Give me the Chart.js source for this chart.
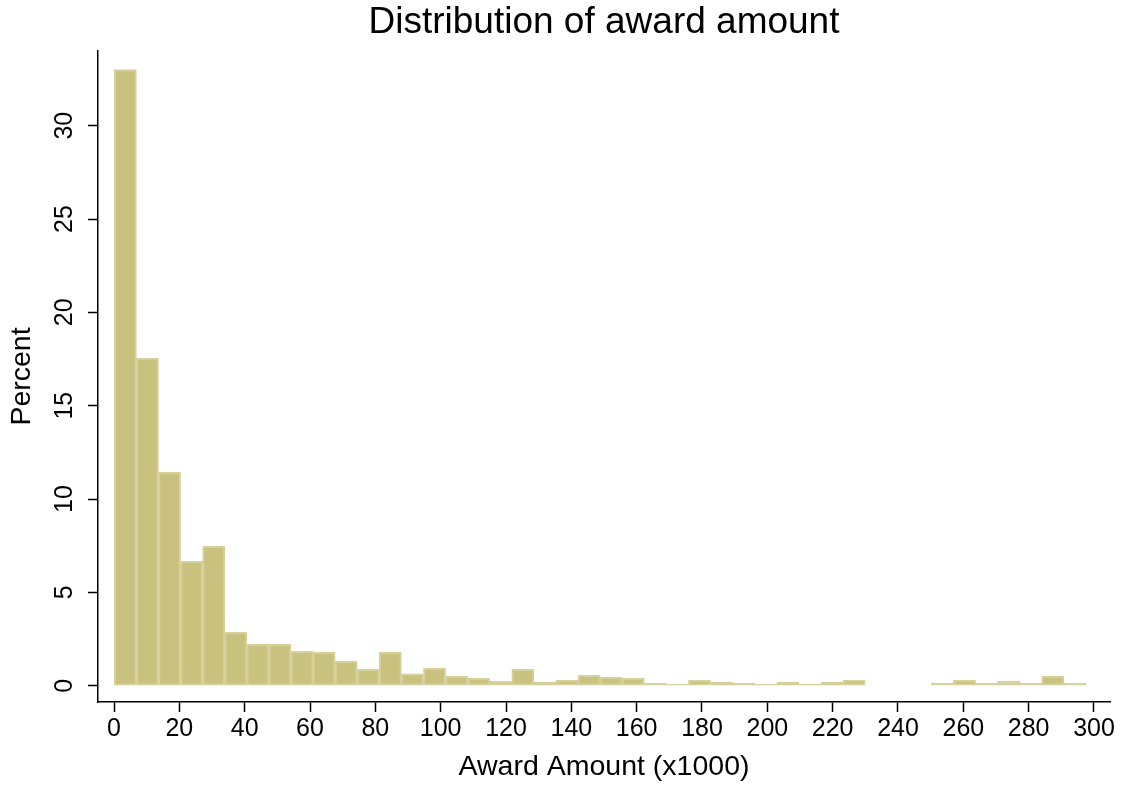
<!DOCTYPE html>
<html>
<head>
<meta charset="utf-8">
<title>Distribution of award amount</title>
<script src="https://cdn.jsdelivr.net/npm/chart.js@4.4.1/dist/chart.umd.min.js"></script>
<style>
    body { margin: 0; background: #fff; }
    #wrap { width: 1122px; height: 788px; }
</style>
</head>
<body>
<div id="wrap"><canvas id="awardChart" width="1122" height="788"></canvas></div>
<script>
// Histogram bins (x1000), 44 equal bins
const binStart = 0.1;
const binWidth = 6.76;
const percent = [
    33.0, 17.55, 11.43, 6.66, 7.47, 2.86, 2.22, 2.22, 1.84, 1.79, 1.31,
    0.88, 1.79, 0.63, 0.93, 0.50, 0.40, 0.23, 0.88, 0.20, 0.29, 0.56,
    0.45, 0.40, 0.13, 0.07, 0.29, 0.20, 0.14, 0.07, 0.20, 0.09, 0.20,
    0.30, 0, 0, 0, 0.14, 0.29, 0.14, 0.25, 0.14, 0.50, 0.14
];
const xTicks = [0, 20, 40, 60, 80, 100, 120, 140, 160, 180, 200, 220, 240, 260, 280, 300];
const yTicks = [0, 5, 10, 15, 20, 25, 30];

document.addEventListener('DOMContentLoaded', function() {
    const font = 'Liberation Sans, Arial, Helvetica, sans-serif';

    const points = percent.map((p, i) => ({ x: binStart + binWidth * (i + 0.5), y: p }));

    const ctx = document.getElementById('awardChart').getContext('2d');
    new Chart(ctx, {
        type: 'bar',
        data: {
            datasets: [{
                label: 'Percent',
                data: points,
                backgroundColor: '#C9C27E',
                borderColor: '#D6D09C',
                borderWidth: 2,
                borderSkipped: false,
                barPercentage: 1,
                categoryPercentage: 1
            }]
        },
        options: {
            responsive: false,
            animation: false,
            layout: { padding: { left: 0, top: 0, bottom: 0, right: 12 } },
            plugins: {
                legend: { display: false },
                tooltip: { enabled: false },
                title: {
                    display: true,
                    text: 'Distribution of award amount',
                    fullSize: false,
                    color: '#000',
                    font: { family: font, size: 37, weight: 'normal' },
                    padding: { top: 1, bottom: 5.6 }
                }
            },
            scales: {
                x: {
                    type: 'linear',
                    offset: false,
                    min: -4.9,
                    max: 304.9,
                    afterFit: function(scale) { scale.height = 86; },
                    afterBuildTicks: function(scale) {
                        scale.ticks = xTicks.map(v => ({ value: v }));
                    },
                    grid: {
                        display: true,
                        offset: false,
                        drawOnChartArea: false,
                        drawTicks: true,
                        tickLength: 10,
                        tickWidth: 1.5,
                        tickColor: '#000'
                    },
                    border: { display: true, color: '#000', width: 1.5 },
                    ticks: {
                        autoSkip: false,
                        maxRotation: 0,
                        padding: 2,
                        color: '#000',
                        font: { family: font, size: 25 }
                    },
                    title: {
                        display: true,
                        text: 'Award Amount (x1000)',
                        color: '#000',
                        font: { family: font, size: 28.5 },
                        padding: { top: 0, bottom: 3.5 }
                    }
                },
                y: {
                    type: 'linear',
                    min: -0.873,
                    max: 34,
                    afterFit: function(scale) { scale.width = 98; },
                    afterBuildTicks: function(scale) {
                        scale.ticks = yTicks.map(v => ({ value: v }));
                    },
                    grid: {
                        display: true,
                        drawOnChartArea: false,
                        drawTicks: true,
                        tickLength: 10,
                        tickWidth: 1.5,
                        tickColor: '#000'
                    },
                    border: { display: true, color: '#000', width: 1.5 },
                    ticks: {
                        minRotation: 90,
                        maxRotation: 90,
                        crossAlign: 'center',
                        padding: 9,
                        color: '#000',
                        font: { family: font, size: 25 }
                    },
                    title: {
                        display: true,
                        text: 'Percent',
                        color: '#000',
                        font: { family: font, size: 28.5 },
                        padding: { top: 4.7, bottom: 0 }
                    }
                }
            }
        }
    });
});
</script>
</body>
</html>
